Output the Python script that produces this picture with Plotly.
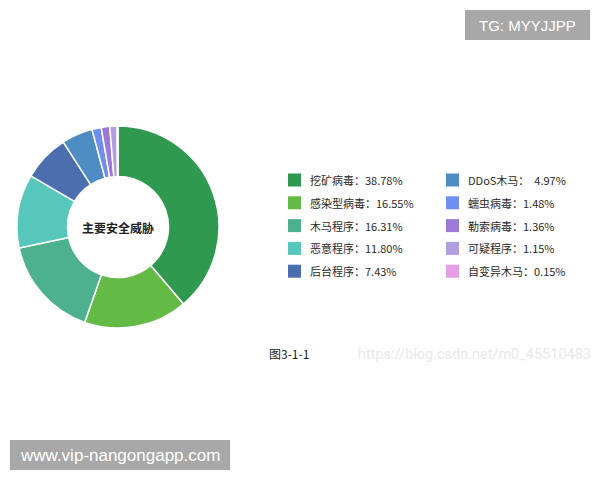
import plotly.graph_objects as go

labels = ["挖矿病毒", "感染型病毒", "木马程序", "恶意程序", "后台程序",
          "DDoS木马", "蠕虫病毒", "勒索病毒", "可疑程序", "自变异木马"]
values = [38.78, 16.55, 16.31, 11.80, 7.43, 4.97, 1.48, 1.36, 1.15, 0.15]
colors = ["#2f9a4f", "#63bb46", "#4db08f", "#56c7ba", "#4a6eae",
          "#4e8cc4", "#6e8ff0", "#9b7ad8", "#b39de1", "#e59fe6"]

W, H = 600, 480

fig = go.Figure()
fig.add_trace(go.Pie(
    labels=labels, values=values, hole=0.5, sort=False, direction="clockwise",
    rotation=0, textinfo="none", hoverinfo="label+percent",
    marker=dict(colors=colors, line=dict(color="white", width=1.5)),
    domain=dict(x=[17 / W, 219 / W], y=[(H - 328) / H, (H - 126) / H]),
    showlegend=False,
))

shapes = []
annotations = []

# center label
annotations.append(dict(x=118 / W, y=(H - 227) / H, xref="paper", yref="paper",
                        xanchor="center", yanchor="middle",
                        text="<b>主要安全威胁</b>", showarrow=False,
                        font=dict(size=12, color="#222", family="Noto Sans CJK SC")))

# custom two-column legend
col_x = [288, 446]
row_y0 = 180
row_dy = 22.8
for i, (lab, val, col) in enumerate(zip(labels, values, colors)):
    c = i // 5
    r = i % 5
    x0 = col_x[c]
    yc = row_y0 + r * row_dy
    shapes.append(dict(type="rect", xref="paper", yref="paper",
                       x0=x0 / W, x1=(x0 + 13) / W,
                       y0=(H - (yc + 6.5)) / H, y1=(H - (yc - 6.5)) / H,
                       fillcolor=col, line=dict(width=0)))
    sep = "：  " if lab == "DDoS木马" else "："
    annotations.append(dict(x=(x0 + 20) / W, y=(H - yc) / H, xref="paper", yref="paper",
                            xanchor="left", yanchor="middle",
                            text=f"{lab}{sep}{val:.2f}%", showarrow=False,
                            font=dict(size=11, color="#2a2a2a", family="Noto Sans CJK SC")))

# figure caption
annotations.append(dict(x=267 / W, y=(H - 353) / H, xref="paper", yref="paper",
                        xanchor="left", yanchor="middle", text="图3-1-1", showarrow=False,
                        font=dict(size=12, color="#222", family="Noto Sans CJK SC")))
annotations.append(dict(x=356 / W, y=(H - 354) / H, xref="paper", yref="paper",
                        xanchor="left", yanchor="middle",
                        text="https://blog.csdn.net/m0_45510483", showarrow=False,
                        font=dict(size=14.5, color="#e9e9e9", family="Roboto")))

# watermark boxes
shapes.append(dict(type="rect", xref="paper", yref="paper",
                   x0=465 / W, x1=590 / W, y0=(H - 40) / H, y1=(H - 10) / H,
                   fillcolor="#a8a8a8", line=dict(width=0)))
annotations.append(dict(x=527.5 / W, y=(H - 25) / H, xref="paper", yref="paper",
                        xanchor="center", yanchor="middle",
                        text="TG: MYYJJPP", showarrow=False,
                        font=dict(size=15, color="white", family="Liberation Sans")))
shapes.append(dict(type="rect", xref="paper", yref="paper",
                   x0=10 / W, x1=230 / W, y0=(H - 470) / H, y1=(H - 440) / H,
                   fillcolor="#a8a8a8", line=dict(width=0)))
annotations.append(dict(x=120 / W, y=(H - 455) / H, xref="paper", yref="paper",
                        xanchor="center", yanchor="middle",
                        text="www.vip-nangongapp.com", showarrow=False,
                        font=dict(size=17, color="white", family="Liberation Sans")))

fig.update_layout(
    width=W, height=H, margin=dict(l=0, r=0, t=0, b=0),
    paper_bgcolor="white", plot_bgcolor="white",
    shapes=shapes, annotations=annotations,
)

fig.write_html("out.html")
